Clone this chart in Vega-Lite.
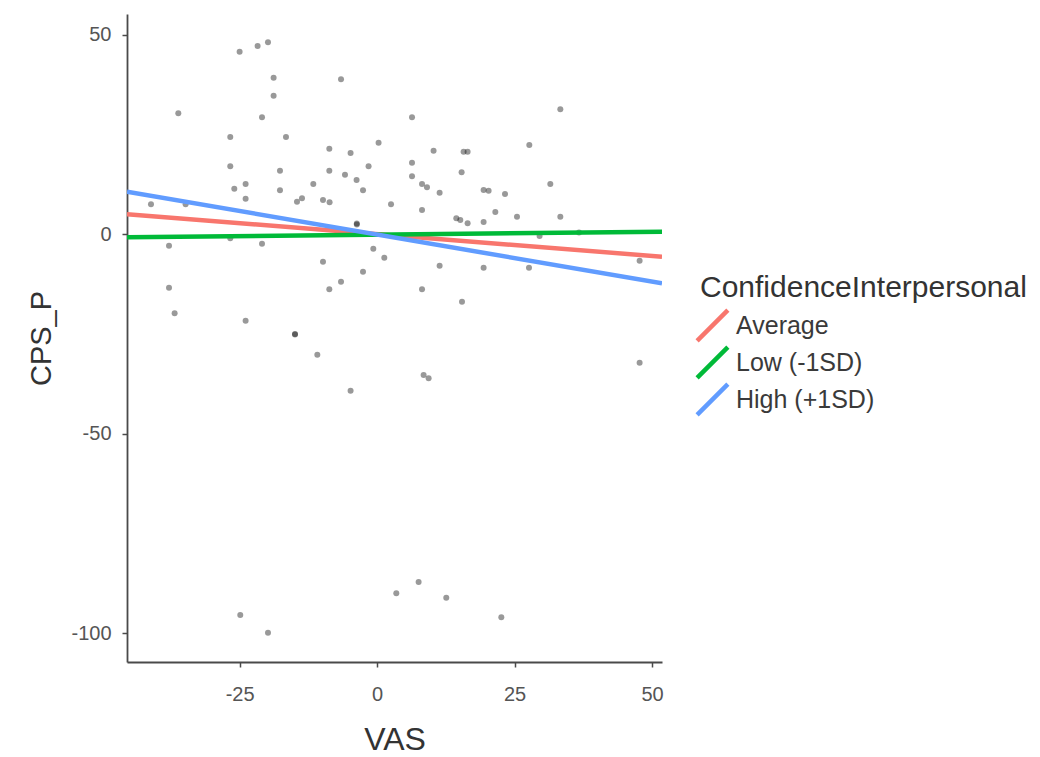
{
  "$schema": "https://vega.github.io/schema/vega-lite/v6.json",
  "autosize": {"type": "none"},
  "padding": {"left": 127, "top": 14, "right": 378, "bottom": 95},
  "width": 535,
  "height": 648,
  "background": "white",
  "config": {
    "font": "Liberation Sans",
    "view": {"stroke": null},
    "axis": {
      "grid": false,
      "domainColor": "#4a4a4a",
      "domainWidth": 1.8,
      "tickColor": "#4a4a4a",
      "tickWidth": 1.5,
      "tickSize": 5,
      "labelColor": "#555555",
      "labelFontSize": 20,
      "labelExpr": "replace(datum.label, '\u2212', '-')",
      "titleColor": "#333333",
      "titleFontWeight": "normal"
    },
    "legend": {
      "titleFontSize": 30,
      "titleFontWeight": "normal",
      "titleColor": "#333333",
      "titleLimit": 500,
      "labelFontSize": 25,
      "labelColor": "#3a3a3a",
      "labelLimit": 300
    }
  },
  "datasets": {
    "obs": [
      {"VAS": -36.15, "CPS_P": 30.36}, {"VAS": -25.0, "CPS_P": 45.8}, {"VAS": -21.73, "CPS_P": 47.23},
      {"VAS": -19.84, "CPS_P": 48.16}, {"VAS": -18.82, "CPS_P": 39.28}, {"VAS": -18.82, "CPS_P": 34.77},
      {"VAS": -20.93, "CPS_P": 29.36}, {"VAS": -6.56, "CPS_P": 38.88}, {"VAS": -26.7, "CPS_P": 24.42},
      {"VAS": -16.57, "CPS_P": 24.42}, {"VAS": -8.69, "CPS_P": 21.48}, {"VAS": -4.82, "CPS_P": 20.41},
      {"VAS": 0.27, "CPS_P": 22.99}, {"VAS": -26.7, "CPS_P": 17.07}, {"VAS": -17.66, "CPS_P": 15.97},
      {"VAS": -8.69, "CPS_P": 15.97}, {"VAS": -5.84, "CPS_P": 14.97}, {"VAS": -1.55, "CPS_P": 17.07},
      {"VAS": -3.73, "CPS_P": 13.64}, {"VAS": -2.56, "CPS_P": 11.06}, {"VAS": -23.91, "CPS_P": 12.63},
      {"VAS": -25.97, "CPS_P": 11.46}, {"VAS": -23.91, "CPS_P": 8.95}, {"VAS": -17.66, "CPS_P": 11.06},
      {"VAS": -11.6, "CPS_P": 12.63}, {"VAS": -14.57, "CPS_P": 8.2}, {"VAS": -13.66, "CPS_P": 9.05},
      {"VAS": -9.84, "CPS_P": 8.62}, {"VAS": -8.64, "CPS_P": 8.05}, {"VAS": -41.12, "CPS_P": 7.55},
      {"VAS": -34.82, "CPS_P": 7.55}, {"VAS": 2.53, "CPS_P": 7.55}, {"VAS": -3.69, "CPS_P": 2.73},
      {"VAS": -3.69, "CPS_P": 2.48}, {"VAS": -26.7, "CPS_P": -0.98}, {"VAS": -37.84, "CPS_P": -2.83},
      {"VAS": -20.93, "CPS_P": -2.33}, {"VAS": -0.69, "CPS_P": -3.58}, {"VAS": 1.31, "CPS_P": -5.84},
      {"VAS": -9.84, "CPS_P": -6.84}, {"VAS": -2.56, "CPS_P": -9.35}, {"VAS": -6.56, "CPS_P": -11.86},
      {"VAS": -8.69, "CPS_P": -13.76}, {"VAS": -37.84, "CPS_P": -13.36}, {"VAS": -36.82, "CPS_P": -19.78},
      {"VAS": -23.91, "CPS_P": -21.63}, {"VAS": -14.93, "CPS_P": -24.97}, {"VAS": -14.93, "CPS_P": -25.1},
      {"VAS": -10.87, "CPS_P": -30.16}, {"VAS": -4.82, "CPS_P": -39.18}, {"VAS": -24.88, "CPS_P": -95.41},
      {"VAS": -19.84, "CPS_P": -99.85}, {"VAS": 3.49, "CPS_P": -89.97}, {"VAS": 7.55, "CPS_P": -87.14},
      {"VAS": 12.58, "CPS_P": -91.08}, {"VAS": 22.59, "CPS_P": -95.99}, {"VAS": 6.35, "CPS_P": 29.36},
      {"VAS": 33.32, "CPS_P": 31.36}, {"VAS": 10.27, "CPS_P": 20.98}, {"VAS": 15.73, "CPS_P": 20.73},
      {"VAS": 16.46, "CPS_P": 20.73}, {"VAS": 27.68, "CPS_P": 22.41}, {"VAS": 6.35, "CPS_P": 17.97},
      {"VAS": 6.35, "CPS_P": 14.57}, {"VAS": 15.37, "CPS_P": 15.57}, {"VAS": 8.17, "CPS_P": 12.63},
      {"VAS": 9.07, "CPS_P": 11.81}, {"VAS": 11.37, "CPS_P": 10.45}, {"VAS": 31.5, "CPS_P": 12.63},
      {"VAS": 19.37, "CPS_P": 11.13}, {"VAS": 20.28, "CPS_P": 10.95}, {"VAS": 23.26, "CPS_P": 10.13},
      {"VAS": 8.17, "CPS_P": 6.12}, {"VAS": 21.5, "CPS_P": 5.62}, {"VAS": 25.44, "CPS_P": 4.44},
      {"VAS": 33.32, "CPS_P": 4.44}, {"VAS": 14.4, "CPS_P": 4.04}, {"VAS": 15.13, "CPS_P": 3.61},
      {"VAS": 16.46, "CPS_P": 2.78}, {"VAS": 19.37, "CPS_P": 3.11}, {"VAS": 29.55, "CPS_P": -0.4},
      {"VAS": 36.72, "CPS_P": 0.48}, {"VAS": 11.37, "CPS_P": -7.85}, {"VAS": 19.37, "CPS_P": -8.35},
      {"VAS": 27.62, "CPS_P": -8.35}, {"VAS": 47.74, "CPS_P": -6.59}, {"VAS": 8.17, "CPS_P": -13.76},
      {"VAS": 15.44, "CPS_P": -16.87}, {"VAS": 8.46, "CPS_P": -35.25}, {"VAS": 9.37, "CPS_P": -36.07},
      {"VAS": 47.74, "CPS_P": -32.16}
    ],
    "fits": [
      {"VAS": -45.48, "CPS_P": 5.04, "ConfidenceInterpersonal": "Average"},
      {"VAS": 51.81, "CPS_P": -5.59, "ConfidenceInterpersonal": "Average"},
      {"VAS": -45.48, "CPS_P": -0.73, "ConfidenceInterpersonal": "Low (-1SD)"},
      {"VAS": 51.81, "CPS_P": 0.68, "ConfidenceInterpersonal": "Low (-1SD)"},
      {"VAS": -45.48, "CPS_P": 10.7, "ConfidenceInterpersonal": "High (+1SD)"},
      {"VAS": 51.81, "CPS_P": -12.26, "ConfidenceInterpersonal": "High (+1SD)"}
    ]
  },
  "layer": [
    {
      "data": {"name": "obs"},
      "mark": {"type": "circle", "color": "#000000", "opacity": 0.4, "size": 36},
      "encoding": {
        "x": {
          "field": "VAS", "type": "quantitative",
          "scale": {"domain": [-45.48, 51.81], "nice": false, "zero": false},
          "axis": {"values": [-25, 0, 25, 50], "title": "VAS", "titleFontSize": 32, "labelPadding": 17, "titlePadding": 20}
        },
        "y": {
          "field": "CPS_P", "type": "quantitative",
          "scale": {"domain": [-107.2, 55.25], "nice": false, "zero": false},
          "axis": {"values": [-100, -50, 0, 50], "title": "CPS_P", "titleFontSize": 29, "labelPadding": 11, "titlePadding": 14}
        }
      }
    },
    {
      "data": {"name": "fits"},
      "mark": {"type": "line", "strokeWidth": 4.5, "clip": true},
      "encoding": {
        "x": {"field": "VAS", "type": "quantitative"},
        "y": {"field": "CPS_P", "type": "quantitative"},
        "detail": {"field": "ConfidenceInterpersonal"},
        "color": {
          "field": "ConfidenceInterpersonal", "type": "nominal",
          "scale": {
            "domain": ["Average", "Low (-1SD)", "High (+1SD)"],
            "range": ["#F8766D", "#00BA38", "#619CFF"]
          },
          "legend": {
            "orient": "none",
            "legendX": 573,
            "legendY": 259,
            "symbolType": "M-1.5,1.5L1.5,-1.5",
            "symbolSize": 420,
            "symbolStrokeWidth": 4.5,
            "rowPadding": -18,
            "labelOffset": 11,
            "titlePadding": 10
          }
        }
      }
    }
  ]
}
